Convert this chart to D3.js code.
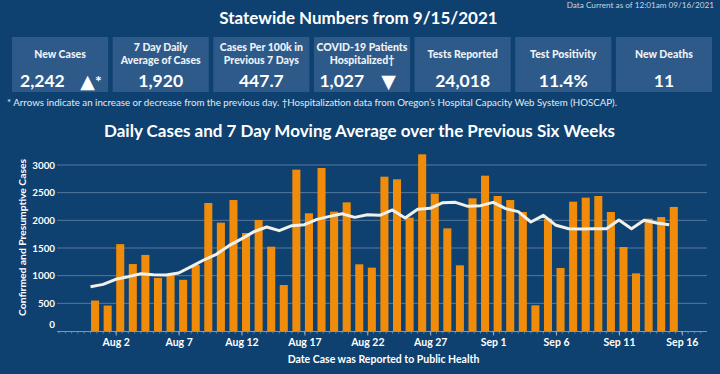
<!DOCTYPE html>
<html><head><meta charset="utf-8">
<script src="https://cdn.jsdelivr.net/npm/d3@7"></script>
<style>html,body{margin:0;padding:0;background:#0e416f;overflow:hidden}svg{display:block;font-family:Lato,"Open Sans",sans-serif}</style>
</head><body><svg id="c" width="720" height="374"></svg>
<script>
// ---- data ----
const dates = ["2021-07-31","2021-08-01","2021-08-02","2021-08-03","2021-08-04","2021-08-05","2021-08-06","2021-08-07","2021-08-08","2021-08-09","2021-08-10","2021-08-11","2021-08-12","2021-08-13","2021-08-14","2021-08-15","2021-08-16","2021-08-17","2021-08-18","2021-08-19","2021-08-20","2021-08-21","2021-08-22","2021-08-23","2021-08-24","2021-08-25","2021-08-26","2021-08-27","2021-08-28","2021-08-29","2021-08-30","2021-08-31","2021-09-01","2021-09-02","2021-09-03","2021-09-04","2021-09-05","2021-09-06","2021-09-07","2021-09-08","2021-09-09","2021-09-10","2021-09-11","2021-09-12","2021-09-13","2021-09-14","2021-09-15"];
const dailyCases = [550,460,1570,1210,1375,960,1010,925,1190,2313,1958,2367,1771,2006,1524,831,2916,2127,2946,2157,2325,1205,1145,2789,2741,2048,3193,2482,1855,1187,2398,2807,2440,2367,2151,464,2030,1139,2337,2410,2440,2151,1518,1042,2030,2060,2242];
const movingAvg = [801,843,934,982,1036,1018,1012,1048,1163,1283,1386,1542,1665,1795,1880,1813,1904,1922,2018,2072,2120,2054,2102,2090,2187,2042,2199,2217,2319,2325,2253,2265,2325,2211,2157,1970,2090,1910,1849,1843,1849,1849,2006,1849,2000,1952,1920];
const xTickDates = ["2021-08-02","2021-08-07","2021-08-12","2021-08-17","2021-08-22","2021-08-27","2021-09-01","2021-09-06","2021-09-11","2021-09-16"];
const yTicks = [0,500,1000,1500,2000,2500,3000];
const kpiLabels = [["New Cases"],["7 Day Daily","Average of Cases"],["Cases Per 100k in","Previous 7 Days"],["COVID-19 Patients","Hospitalized†"],["Tests Reported"],["Test Positivity"],["New Deaths"]];
const kpiValues = ["2,242","1,920","447.7","1,027","24,018","11.4%","11"];
const kpiArrows = ["▲","","","▼","","",""];
const kpiMarks = ["*","","","","","",""];
const titleText = "Statewide Numbers from 9/15/2021";
const updatedText = "Data Current as of 12:01am 09/16/2021";
const footnoteText = "* Arrows indicate an increase or decrease from the previous day. †Hospitalization data from Oregon’s Hospital Capacity Web System (HOSCAP).";
const chartTitle = "Daily Cases and 7 Day Moving Average over the Previous Six Weeks";
const yTitle = "Confirmed and Presumptive Cases";
const xTitle = "Date Case was Reported to Public Health";

// ---- drawing ----
const parse = d3.utcParse("%Y-%m-%d");
const fmt = d3.utcFormat("%b %-d");
const svg = d3.select("#c");
const BG = "#0e416f", BOX = "#2d5a89", ORANGE = "#f08c0a", GRID = "#56799f", TXT = "#ffffff";

svg.append("rect").attr("width",720).attr("height",374).attr("fill",BG);

svg.append("text").attr("x",358.5).attr("y",24).attr("text-anchor","middle")
  .attr("fill",TXT).attr("font-weight",700).attr("font-size",17).text(titleText);
svg.append("text").attr("x",714).attr("y",8).attr("text-anchor","end")
  .attr("fill","#c9d4e0").attr("font-size",8.2).text(updatedText);

// KPI boxes
const kx = d3.scaleBand().domain(d3.range(kpiValues.length)).range([12,712]).paddingInner(0.045).paddingOuter(0);
const kpi = svg.append("g").selectAll("g").data(kpiValues).join("g")
  .attr("transform",(d,i)=>`translate(${kx(i)},37)`);
kpi.append("rect").attr("width",kx.bandwidth()).attr("height",55).attr("fill",BOX);
kpi.each(function(d,i){
  const g = d3.select(this), w = kx.bandwidth(), lines = kpiLabels[i];
  const ys = lines.length===1 ? [20.5] : [13.5,26.8];
  lines.forEach((t,j)=>g.append("text").attr("x",w/2).attr("y",ys[j]).attr("text-anchor","middle")
    .attr("fill","#eef2f7").attr("font-weight",900).attr("font-size",10.5).text(t));
  if (kpiArrows[i]) {
    g.append("text").attr("x",i===0?8:5.5).attr("y",50).attr("fill",TXT).attr("font-weight",700)
      .attr("font-size",17.5).text(d);
    g.append("text").attr("x",i===0?75.5:74.5).attr("y",51).attr("text-anchor","middle").attr("fill",TXT)
      .attr("font-family","DejaVu Sans").attr("font-size",19).text(kpiArrows[i]);
    if (kpiMarks[i]) g.append("text").attr("x",83).attr("y",50).attr("fill",TXT).attr("font-weight",700)
      .attr("font-size",16).text(kpiMarks[i]);
  } else {
    g.append("text").attr("x",w/2).attr("y",50).attr("text-anchor","middle").attr("fill",TXT)
      .attr("font-weight",700).attr("font-size",17.5).text(d);
  }
});

svg.append("text").attr("x",7).attr("y",106).attr("fill","#e4eaf1").attr("font-size",9.6)
  .attr("textLength",610).attr("lengthAdjust","spacingAndGlyphs").text(footnoteText);
svg.append("text").attr("x",359.5).attr("y",137).attr("text-anchor","middle")
  .attr("fill",TXT).attr("font-weight",700).attr("font-size",17).text(chartTitle);

// chart
const x = d3.scaleUtc().domain([new Date(Date.UTC(2021,6,28,8)), new Date(Date.UTC(2021,8,18,0))]).range([57,707]);
const y = d3.scaleLinear().domain([0,3000]).range([331,165]);
const dayW = x(parse("2021-08-02")) - x(parse("2021-08-01"));

const grid = svg.append("g");
grid.selectAll("line").data(yTicks.filter(v=>v>0)).join("line")
  .attr("x1",57).attr("x2",707).attr("y1",d=>y(d)).attr("y2",d=>y(d))
  .attr("stroke",GRID).attr("stroke-width",1);

const rows = dates.map((d,i)=>({date:parse(d), cases:dailyCases[i], avg:movingAvg[i]}));
svg.append("g").selectAll("rect").data(rows).join("rect")
  .attr("x",d=>x(d.date)+0.5).attr("width",dayW*0.64)
  .attr("y",d=>y(d.cases)).attr("height",d=>y(0)-y(d.cases)).attr("fill",ORANGE);

svg.append("path").datum(rows)
  .attr("d",d3.line().x(d=>x(d.date)).y(d=>y(d.avg)))
  .attr("fill","none").attr("stroke","#f1f1ea").attr("stroke-width",3).attr("stroke-linejoin","round");

// x axis line + minor ticks
svg.append("line").attr("x1",57).attr("x2",707).attr("y1",331.5).attr("y2",331.5).attr("stroke","#7f97b2").attr("stroke-width",1);
const minor = d3.utcHour.every(12).range(x.domain()[0], x.domain()[1]);
svg.append("g").selectAll("line").data(minor).join("line")
  .attr("x1",d=>x(d)).attr("x2",d=>x(d)).attr("y1",331.5).attr("y2",333.5).attr("stroke","#7f97b2").attr("stroke-width",0.8);
const xa = svg.append("g").attr("transform","translate(0,331.5)")
  .call(d3.axisBottom(x).tickValues(xTickDates.map(parse)).tickFormat(fmt).tickSize(4).tickPadding(3));
xa.select(".domain").remove();
xa.selectAll("line").attr("stroke","#9fb2c7");
xa.selectAll("text").attr("fill",TXT).attr("font-family","Lato").attr("font-weight",700).attr("font-size",10.5);

const ya = svg.append("g").attr("transform","translate(56,0)")
  .call(d3.axisLeft(y).tickValues(yTicks).tickFormat(d3.format("d")).tickSize(0).tickPadding(1));
ya.select(".domain").remove();
ya.selectAll("text").attr("fill",TXT).attr("font-family","Lato").attr("font-weight",700).attr("font-size",9.8)
  .attr("dy",d=>d===0?"-0.35em":"0.32em");

svg.append("text").attr("transform","translate(26,237.5) rotate(-90)").attr("text-anchor","middle")
  .attr("fill",TXT).attr("font-weight",700).attr("font-size",10.3).text(yTitle);
svg.append("text").attr("x",383.5).attr("y",363).attr("text-anchor","middle")
  .attr("fill",TXT).attr("font-weight",700).attr("font-size",10.5).text(xTitle);
</script></body></html>
